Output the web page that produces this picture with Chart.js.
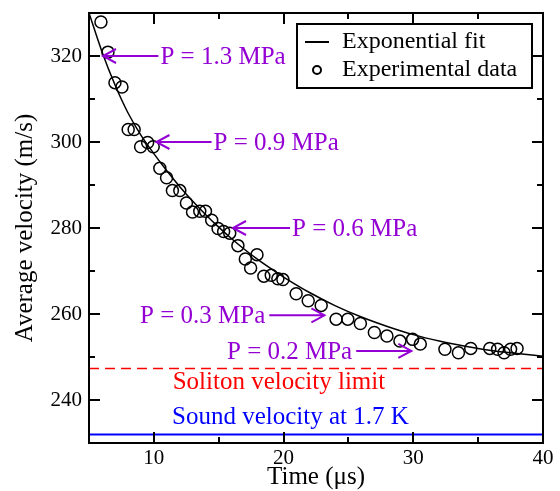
<!DOCTYPE html>
<html>
<head>
<meta charset="utf-8">
<script src="https://cdn.jsdelivr.net/npm/chart.js@4/dist/chart.umd.min.js"></script>
<style>
  body { margin: 0; background: #ffffff; }
  canvas { display: block; }
</style>
</head>
<body>
<canvas id="velocityChart" width="560" height="491"></canvas>
<script>
// measured data (time in us, velocity in m/s)
const expTimes = [5.92, 6.46, 7.0, 7.54, 8.02, 8.48, 8.98, 9.52, 9.95, 10.46, 10.98, 11.43, 12.0, 12.51, 12.98, 13.54, 13.98, 14.46, 14.95, 15.38, 15.85, 16.48, 17.05, 17.46, 17.95, 18.48, 19.05, 19.56, 19.95, 20.97, 21.9, 22.9, 24.05, 24.95, 25.92, 27.0, 27.97, 28.97, 29.95, 30.54, 32.44, 33.48, 34.43, 35.9, 36.5, 37.0, 37.5, 38.0];
const expVelocities = [327.9, 320.9, 313.8, 312.8, 302.9, 302.9, 298.9, 299.9, 298.9, 293.9, 291.7, 288.7, 288.7, 285.8, 283.7, 283.9, 283.9, 281.8, 279.9, 279.2, 278.8, 275.9, 272.8, 270.7, 273.8, 268.8, 269.0, 268.2, 268.0, 264.7, 263.1, 262.0, 258.8, 258.8, 257.8, 255.7, 254.9, 253.7, 254.1, 253.0, 251.8, 251.0, 252.0, 252.0, 251.8, 251.0, 251.8, 252.0];

// exponential fit curve
const fitTimes = [5, 6, 7, 8, 9, 10, 11, 12, 13, 14, 15, 16, 17, 18, 19, 20, 22, 24, 26, 28, 30, 32, 34, 36, 38, 40];
const fitVelocities = [330, 321.0, 313.3, 306.8, 301.6, 297.3, 293.3, 289.6, 286.2, 283.1, 280.2, 277.5, 275.0, 272.7, 270.6, 268.6, 265.0, 261.9, 259.3, 257.1, 255.2, 253.7, 252.5, 251.5, 250.8, 250.2];

// reference levels
const solitonLimit = 247.3;
const soundVelocity = 232;

// axis ranges
const timeRange = [5, 40];
const velocityRange = [230, 330];

// pressure labels: text, velocity level, arrow tail time, arrow tip time
const pressureLabels = ['P = 1.3 MPa', 'P = 0.9 MPa', 'P = 0.6 MPa', 'P = 0.3 MPa', 'P = 0.2 MPa'];
const pressureLevels = [320, 300, 280, 259.7, 251.4];
const arrowTails = [10.35, 14.45, 20.5, 18.9, 25.6];
const arrowTips = [6.08, 10.2, 16.1, 23.15, 29.85];

const serif = "'Liberation Serif', 'Times New Roman', serif";
const purple = '#9400d3';

function toXY(xs, ys) {
    return xs.map((x, i) => ({ x: x, y: ys[i] }));
}

// 안쪽 눈금, 테두리, 주석, 범례
const decorPlugin = {
    id: 'decor',
    afterDraw(chart) {
        const ctx = chart.ctx;
        const area = chart.chartArea;
        const xs = chart.scales.x;
        const ys = chart.scales.y;
        ctx.save();
        ctx.strokeStyle = '#000';
        ctx.lineWidth = 2;

        // ticks pointing inward on all four sides
        xs.ticks.forEach(t => {
            if (t.value <= timeRange[0] || t.value >= timeRange[1]) return;
            const px = Math.round(xs.getPixelForValue(t.value));
            const len = t.value % 10 === 0 ? 11 : 6;
            ctx.beginPath();
            ctx.moveTo(px, area.bottom); ctx.lineTo(px, area.bottom - len);
            ctx.moveTo(px, area.top); ctx.lineTo(px, area.top + len);
            ctx.stroke();
        });
        ys.ticks.forEach(t => {
            if (t.value <= velocityRange[0] || t.value >= velocityRange[1]) return;
            const py = Math.round(ys.getPixelForValue(t.value));
            const len = (t.value - 240) % 20 === 0 ? 11 : 6;
            ctx.beginPath();
            ctx.moveTo(area.left, py); ctx.lineTo(area.left + len, py);
            ctx.moveTo(area.right, py); ctx.lineTo(area.right - len, py);
            ctx.stroke();
        });
        ctx.strokeRect(area.left, area.top, area.right - area.left, area.bottom - area.top);

        // pressure annotations
        ctx.strokeStyle = purple;
        ctx.fillStyle = purple;
        ctx.lineWidth = 2;
        ctx.font = '25px ' + serif;
        ctx.textBaseline = 'middle';
        pressureLabels.forEach((label, i) => {
            const py = ys.getPixelForValue(pressureLevels[i]);
            const tail = xs.getPixelForValue(arrowTails[i]);
            const tip = xs.getPixelForValue(arrowTips[i]);
            const dir = tip < tail ? -1 : 1;
            ctx.beginPath();
            ctx.moveTo(tail, py); ctx.lineTo(tip, py);
            ctx.moveTo(tip - dir * 13, py - 7); ctx.lineTo(tip, py); ctx.lineTo(tip - dir * 13, py + 7);
            ctx.stroke();
            if (dir < 0) {
                ctx.textAlign = 'left';
                ctx.fillText(label, tail + 2, py + 1);
            } else {
                ctx.textAlign = 'right';
                ctx.fillText(label, tail - 4, py + 1);
            }
        });

        // reference line captions
        ctx.textAlign = 'left';
        ctx.fillStyle = '#ff0000';
        ctx.fillText('Soliton velocity limit', xs.getPixelForValue(11.45), ys.getPixelForValue(244.1));
        ctx.fillStyle = '#0000ff';
        ctx.fillText('Sound velocity at 1.7 K', xs.getPixelForValue(11.4), ys.getPixelForValue(236.0));

        // legend box
        const bx = 297, by = 24, bw = 235, bh = 64;
        ctx.fillStyle = '#fff';
        ctx.fillRect(bx, by, bw, bh);
        ctx.strokeStyle = '#000';
        ctx.lineWidth = 2;
        ctx.strokeRect(bx, by, bw, bh);
        ctx.beginPath();
        ctx.moveTo(bx + 8, by + 18); ctx.lineTo(bx + 32, by + 18);
        ctx.stroke();
        ctx.beginPath();
        ctx.arc(bx + 20, by + 46, 4, 0, Math.PI * 2);
        ctx.stroke();
        ctx.fillStyle = '#000';
        ctx.font = '24px ' + serif;
        ctx.fillText(chart.data.datasets[0].label, bx + 45, by + 18);
        ctx.fillText(chart.data.datasets[1].label, bx + 45, by + 46);
        ctx.restore();
    }
};

new Chart(document.getElementById('velocityChart').getContext('2d'), {
    type: 'scatter',
    data: {
        datasets: [{
            label: 'Exponential fit',
            type: 'line',
            data: toXY(fitTimes, fitVelocities),
            borderColor: '#000',
            borderWidth: 1.5,
            pointRadius: 0,
            cubicInterpolationMode: 'monotone',
            fill: false
        }, {
            label: 'Experimental data',
            data: toXY(expTimes, expVelocities),
            borderColor: '#000',
            backgroundColor: 'rgba(0,0,0,0)',
            borderWidth: 1.5,
            pointRadius: 6,
            pointHoverRadius: 6
        }, {
            label: 'Soliton velocity limit',
            type: 'line',
            data: toXY(timeRange, [solitonLimit, solitonLimit]),
            borderColor: '#ff0000',
            borderWidth: 1.5,
            borderDash: [10, 6],
            pointRadius: 0
        }, {
            label: 'Sound velocity at 1.7 K',
            type: 'line',
            data: toXY(timeRange, [soundVelocity, soundVelocity]),
            borderColor: '#0000ff',
            borderWidth: 2,
            pointRadius: 0
        }]
    },
    options: {
        responsive: false,
        animation: false,
        layout: { padding: { top: 13, right: 17, left: 0, bottom: 0 } },
        plugins: {
            legend: { display: false },
            tooltip: { enabled: false }
        },
        scales: {
            x: {
                type: 'linear',
                min: timeRange[0],
                max: timeRange[1],
                grid: { display: false, drawTicks: false },
                border: { display: false },
                afterFit: scale => {
                    scale.height = 48;
                    scale.paddingLeft = 0;
                    scale.paddingRight = 0;
                },
                ticks: {
                    stepSize: 5,
                    maxRotation: 0,
                    autoSkip: false,
                    padding: 3,
                    color: '#000',
                    font: { family: serif, size: 21 },
                    callback: v => (v % 10 === 0 && v > timeRange[0]) ? String(v) : ''
                },
                title: {
                    display: true,
                    text: 'Time (μs)',
                    color: '#000',
                    padding: 0,
                    font: { family: serif, size: 25, lineHeight: 1.1 }
                }
            },
            y: {
                type: 'linear',
                min: velocityRange[0],
                max: velocityRange[1],
                grid: { display: false, drawTicks: false },
                border: { display: false },
                afterFit: scale => {
                    scale.width = 89;
                    scale.paddingTop = 0;
                    scale.paddingBottom = 0;
                },
                ticks: {
                    stepSize: 10,
                    autoSkip: false,
                    padding: 7,
                    color: '#000',
                    font: { family: serif, size: 21 },
                    callback: v => ((v - 240) % 20 === 0 && v >= 240 && v <= 320) ? String(v) : ''
                },
                title: {
                    display: true,
                    text: 'Average velocity (m/s)',
                    color: '#000',
                    padding: { top: 12, bottom: 0 },
                    font: { family: serif, size: 25, lineHeight: 1.1 }
                }
            }
        }
    },
    plugins: [decorPlugin]
});
</script>
</body>
</html>
